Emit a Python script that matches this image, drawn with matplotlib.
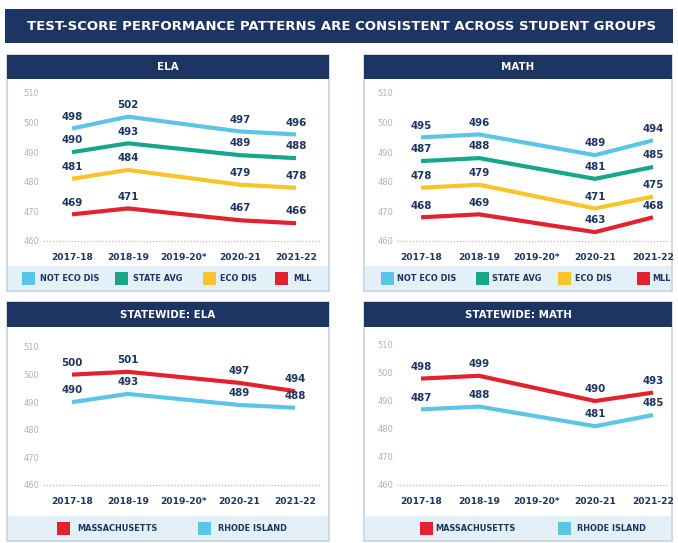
import matplotlib.pyplot as plt
from matplotlib.patches import Rectangle

# Données
years = ['2017-18', '2018-19', '2019-20*', '2020-21', '2021-22']
yticks = [460, 470, 480, 490, 500, 510]

ela_not_eco = [498, 502, None, 497, 496]
ela_state = [490, 493, None, 489, 488]
ela_eco = [481, 484, None, 479, 478]
ela_mll = [469, 471, None, 467, 466]

math_not_eco = [495, 496, None, 489, 494]
math_state = [487, 488, None, 481, 485]
math_eco = [478, 479, None, 471, 475]
math_mll = [468, 469, None, 463, 468]

sw_ela_ma = [500, 501, None, 497, 494]
sw_ela_ri = [490, 493, None, 489, 488]
sw_math_ma = [498, 499, None, 490, 493]
sw_math_ri = [487, 488, None, 481, 485]

group_names = ['NOT ECO DIS', 'STATE AVG', 'ECO DIS', 'MLL']
state_names = ['MASSACHUSETTS', 'RHODE ISLAND']
title = 'TEST-SCORE PERFORMANCE PATTERNS ARE CONSISTENT ACROSS STUDENT GROUPS'

# Couleurs
NAVY = '#1d3562'
CYAN = '#5cc5e6'
GREEN = '#16a68a'
YELLOW = '#f8c42a'
RED = '#e3222d'
BAND = '#e3f0f7'
BORDER = '#c5d2de'

W, H = 678, 543
fig = plt.figure(figsize=(W / 100, H / 100), dpi=100)
fig.patch.set_facecolor('white')


def rect(x0, y0, x1, y1, z=-1, **kw):
    fig.patches.append(Rectangle((x0 / W, 1 - y1 / H), (x1 - x0) / W, (y1 - y0) / H,
                                 transform=fig.transFigure, figure=fig, zorder=z, **kw))


def text(x, y, s, **kw):
    fig.text(x / W, 1 - y / H, s, **kw)


# Bandeau titre
rect(5, 9, 673, 43, facecolor=NAVY, edgecolor='none')
text(342, 26.5, title, color='white', fontsize=9.5, fontweight='bold',
     ha='center', va='center')


def panel(box, head_h, axbox, x0px, x4px, label_pad, name, series, colors,
          names, legend_pos):
    bx0, by0, bx1, by1 = box
    # cadre et bandeaux
    rect(bx0, by0, bx1, by1, z=-3, facecolor='white', edgecolor=BORDER, linewidth=1.2)
    rect(bx0, by0, bx1, by0 + head_h, z=-2, facecolor=NAVY, edgecolor='none')
    rect(bx0 + 0.6, by1 - 25, bx1 - 0.6, by1 - 0.6, z=-2, facecolor=BAND, edgecolor='none')
    text((bx0 + bx1) / 2, by0 + head_h / 2, name, color='white', fontsize=7.4,
         fontweight='bold', ha='center', va='center')

    # axes
    ax0, ay0, ax1, ay1 = axbox
    ax = fig.add_axes([ax0 / W, 1 - ay1 / H, (ax1 - ax0) / W, (ay1 - ay0) / H])
    ax.patch.set_alpha(0)
    unit = (x4px - x0px) / 4
    ax.set_xlim((ax0 - x0px) / unit, 4 + (ax1 - x4px) / unit)
    ax.set_ylim(460, 510)
    for s in ax.spines.values():
        s.set_visible(False)
    ax.axhline(460, color='#bbbbbb', linewidth=0.9, linestyle=(0, (1, 1.5)), clip_on=False)
    ax.set_yticks(yticks)
    ax.set_yticklabels([str(v) for v in yticks], fontsize=6, color='#b3b3b3')
    ax.set_xticks(range(len(years)))
    ax.set_xticklabels(years, fontsize=6.6, fontweight='bold', color=NAVY)
    ax.tick_params(axis='y', length=0, pad=2.5)
    ax.tick_params(axis='x', length=0, pad=label_pad)

    for vals, col in zip(series, colors):
        xs = [i for i, v in enumerate(vals) if v is not None]
        ys = [v for v in vals if v is not None]
        ax.plot(xs, ys, color=col, linewidth=3.0, solid_capstyle='butt',
                solid_joinstyle='round', clip_on=False)
        for x, y in zip(xs, ys):
            ax.annotate(str(y), (x, y), xytext=(0, 8.5), textcoords='offset points',
                        ha='center', va='center', fontsize=7.4, fontweight='bold',
                        color=NAVY)

    # légende
    ly = by1 - 12.5
    for (px, tx), col, nm in zip(legend_pos, colors, names):
        rect(px, ly - 6.5, px + 13, ly + 6.5, z=-1, facecolor=col, edgecolor='none')
        text(tx, ly, nm, color=NAVY, fontsize=5.9, fontweight='bold',
             ha='left', va='center')


panel((7, 55, 329, 291), 24, (43, 93, 320, 241), 72, 296, 9, 'ELA',
      [ela_not_eco, ela_state, ela_eco, ela_mll], [CYAN, GREEN, YELLOW, RED],
      group_names, [(22, 40), (115, 133), (203, 220), (275, 293)])

panel((364, 55, 672, 291), 24, (397, 93, 668, 241), 421, 653, 9, 'MATH',
      [math_not_eco, math_state, math_eco, math_mll], [CYAN, GREEN, YELLOW, RED],
      group_names, [(381, 397), (476, 492), (558, 575), (637, 652)])

panel((7, 302, 329, 541), 25, (43, 347, 320, 485), 72, 295, 9, 'STATEWIDE: ELA',
      [sw_ela_ma, sw_ela_ri], [RED, CYAN],
      state_names, [(57, 77), (198, 218)])

panel((364, 302, 672, 541), 25, (397, 345, 668, 485), 421, 653, 9, 'STATEWIDE: MATH',
      [sw_math_ma, sw_math_ri], [RED, CYAN],
      state_names, [(420, 435), (558, 577)])

fig.savefig('out.png', dpi=100)
